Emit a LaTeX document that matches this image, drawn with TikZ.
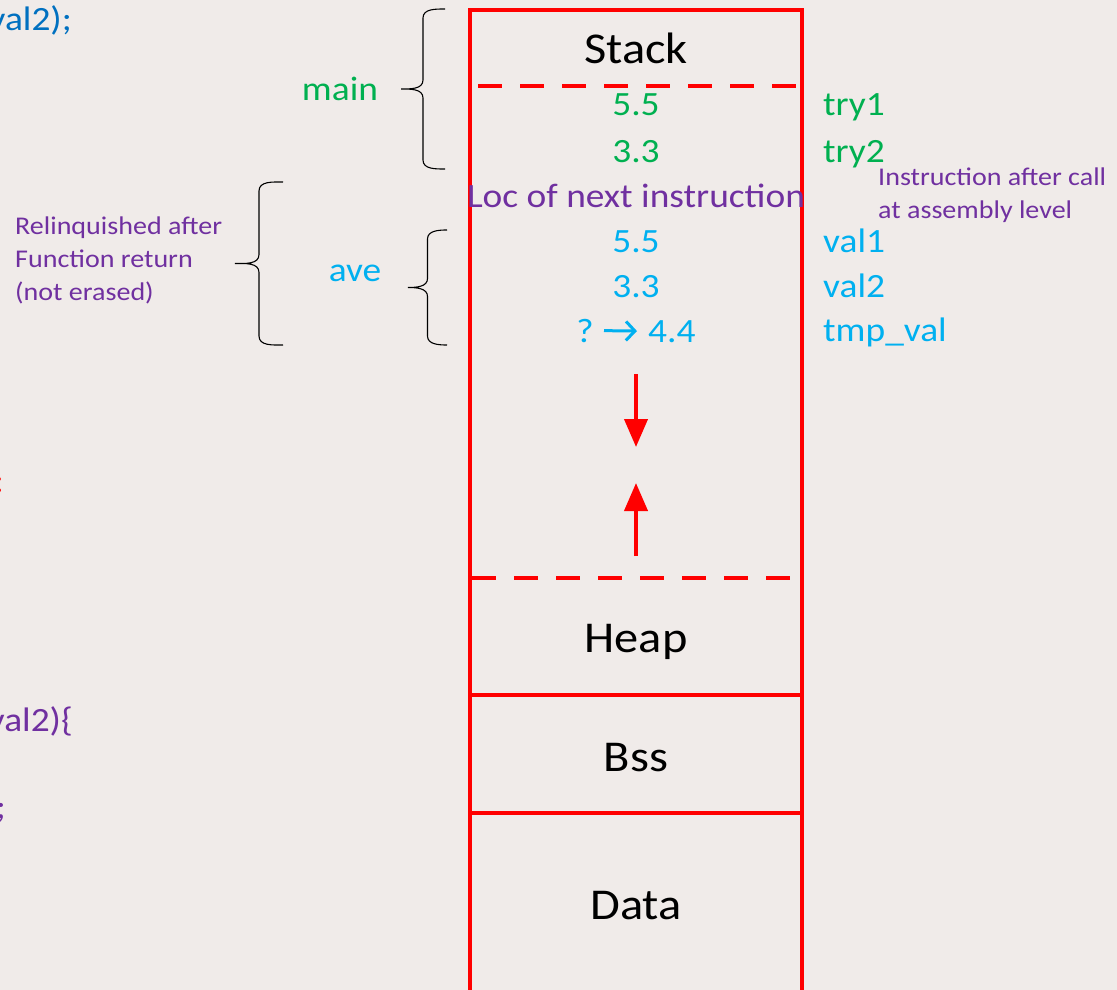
\documentclass[tikz,border=0pt]{standalone}
\usepackage{fontspec}
\setmainfont{Carlito}[FakeStretch=1.1]
\usepackage{tikz}
\usepackage{xcolor}
\usetikzlibrary{arrows.meta}
\definecolor{memred}{RGB}{255,0,0}
\definecolor{maingreen}{RGB}{0,176,80}
\definecolor{avecyan}{RGB}{0,176,240}
\definecolor{notepurple}{RGB}{112,48,160}
\definecolor{codeblue}{RGB}{0,112,192}
\definecolor{boardbg}{RGB}{240,235,233}
% curly bracket: arm x, top y, bottom y, depth
\newcommand{\curlyframe}[4]{%
  \draw[line width=1.1pt]
    (#1,#2) to[out=180,in=90] ({#1-#4/2},{#2-9})
    -- ({#1-#4/2},{(#2+#3)/2+9}) to[out=-90,in=0] ({#1-#4},{(#2+#3)/2})
    to[out=0,in=90] ({#1-#4/2},{(#2+#3)/2-9})
    -- ({#1-#4/2},{#3+9}) to[out=-90,in=180] (#1,#3);}

\begin{document}
\begin{tikzpicture}[x=1pt,y=1pt,
    every node/.style={inner sep=0pt},
    seg/.style={anchor=base,font=\fontsize{44}{52}\selectfont},
    cell/.style={anchor=base,font=\fontsize{34}{40}\selectfont},
    slot/.style={anchor=base west,font=\fontsize{34}{40}\selectfont},
    code/.style={anchor=base east,font=\fontsize{34}{40}\selectfont},
    note/.style={anchor=north west,align=left,text=notepurple,
                 font=\fontsize{25.5}{33}\selectfont},
    wall/.style={memred,line width=4pt},
    split/.style={memred,line width=4pt,dash pattern=on 24pt off 18pt},
    growarrow/.style={memred,line width=4pt,-{Triangle[width=23pt,length=28pt]}}]
        % background and page edge
        \fill[boardbg] (0,0) rectangle (1117,-990);
        \clip (0,0) rectangle (1117,-990);
        % code fragments cut off at the left
        \node[code,text=codeblue] (codeA) at (72,-31) {val2);};
        \node[code,text=memred] (codeB) at (4,-492) {:};
        \node[code,text=notepurple] (codeC) at (73,-731) {val2)\{};
        \node[code,text=notepurple] (codeD) at (6,-818) {;};
        % memory column
        \draw[wall] (470,-1000) -- (470,-10) -- (802,-10) -- (802,-1000);
        \draw[split] (478,-86) -- (800,-86);
        \draw[split] (472,-578) -- (800,-578);
        \draw[wall] (470,-695) -- (802,-695);
        \draw[wall] (470,-813) -- (802,-813);
        \node[seg] (stack) at (636,-64) {Stack};
        \node[seg] (heap) at (636,-652) {Heap};
        \node[seg] (bss) at (636,-771) {Bss};
        \node[seg] (data) at (636,-919) {Data};
        % stack contents
        \node[cell,text=maingreen] (try1v) at (636,-115) {5.5};
        \node[cell,text=maingreen] (try2v) at (636,-162) {3.3};
        \node[cell,text=notepurple] (ret) at (636,-207) {Loc of next instruction};
        \node[cell,text=avecyan] (val1v) at (636,-252) {5.5};
        \node[cell,text=avecyan] (val2v) at (636,-297) {3.3};
        \node[cell,anchor=base east,text=avecyan] (tmpq) at (594,-342) {?};
        \node[cell,anchor=base west,text=avecyan] (tmpv) at (648,-342) {4.4};
        \draw[avecyan,line width=3pt,shorten <=10pt,shorten >=11pt,
              -{Straight Barb[length=9pt,width=19pt]}] (tmpq.east) -- (tmpv.west);
        % growth arrows
        \coordinate (downS) at (636,-374);
        \coordinate (downE) at (636,-447);
        \coordinate (upS) at (636,-556);
        \coordinate (upE) at (636,-483);
        \draw[growarrow] (downS) -- (downE);
        \draw[growarrow] (upS) -- (upE);
        % variable names
        \node[slot,text=maingreen] (try1) at (823,-115) {try1};
        \node[slot,text=maingreen] (try2) at (823,-162) {try2};
        \node[slot,text=avecyan] (val1) at (823,-252) {val1};
        \node[slot,text=avecyan] (val2) at (823,-297) {val2};
        \node[slot,text=avecyan] (tmp) at (823,-341) {tmp\_val};
        \node[note] (retnote) at (878,-168) {Instruction after call\\at assembly level};
        % frames
        \curlyframe{445}{-9}{-169}{44}
        \node[cell,text=maingreen] (mainlbl) at (340,-100) {main};
        \curlyframe{447}{-230}{-345}{39}
        \node[cell,text=avecyan] (avelbl) at (355,-281) {ave};
        \curlyframe{283}{-182}{-345}{48}
        \node[note] (freed) at (15,-217) {Relinquished after\\Function return\\(not erased)};
      \end{tikzpicture}
\end{document}
